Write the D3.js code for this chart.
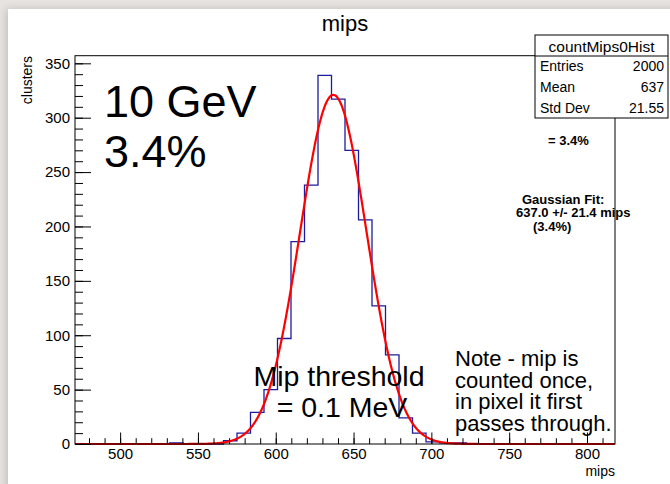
<!DOCTYPE html>
<html>
<head>
<meta charset="utf-8">
<script src="https://cdn.jsdelivr.net/npm/d3@7"></script>
<style>
  html, body { margin: 0; padding: 0; background: #e7e4e1; }
  svg { display: block; font-family: "Liberation Sans", Arial, sans-serif; }
</style>
</head>
<body>
<svg id="chart" width="670" height="484"></svg>
<script>
// Histogram of mip counts per cluster (10 GeV sample)
const xRange = [471, 818];
const nBins = 40;
const binCounts = [
  0, 0, 0, 0, 0, 0, 0, 1, 0, 0,
  0, 3, 10, 29, 50, 97, 186, 238, 339, 317,
  270, 206, 127, 82, 24, 10, 2, 1, 1, 0,
  0, 0, 0, 0, 0, 0, 0, 0, 0, 0
];
const yMax = 357;
const xMajorTicks = [500, 550, 600, 650, 700, 750, 800];
const xMinorTicks = d3.range(480, 811, 10);
const yMajorTicks = [0, 50, 100, 150, 200, 250, 300, 350];
const yMinorTicks = d3.range(0, 351, 10);

// Gaussian fit parameters
const fitAmp = 321;
const fitMean = 637.0;
const fitSigma = 21.4;

// Statistics box
const statsTitle = "countMips0Hist";
const statsRows = [["Entries", "2000"], ["Mean", "637"], ["Std Dev", "21.55"]];

const svg = d3.select("#chart");

// page backdrop with a soft shadow under the white sheet
const defs = svg.append("defs");
const f = defs.append("filter").attr("id", "shadow").attr("x", "-5%").attr("y", "-5%").attr("width", "110%").attr("height", "110%");
f.append("feDropShadow").attr("dx", -2).attr("dy", 0).attr("stdDeviation", 4).attr("flood-color", "#9a9792").attr("flood-opacity", 0.5);
svg.append("rect").attr("x", 0).attr("y", 0).attr("width", 670).attr("height", 484).attr("fill", "#e7e4e1");
svg.append("rect").attr("x", 8).attr("y", 9).attr("width", 680).attr("height", 490)
  .attr("fill", "#ffffff").attr("filter", "url(#shadow)");

const plot = { left: 75, right: 615, top: 55.7, bottom: 444 };
const x = d3.scaleLinear().domain(xRange).range([plot.left, plot.right]);
const y = d3.scaleLinear().domain([0, yMax]).range([plot.bottom, plot.top]);
const binW = (xRange[1] - xRange[0]) / nBins;

// Title
svg.append("text").attr("x", (plot.left + plot.right) / 2).attr("y", 31)
  .attr("text-anchor", "middle").attr("font-size", 22).attr("fill", "#000").text("mips");

// Histogram outline (step line)
const pts = [[x(xRange[0]), y(0)]];
binCounts.forEach((c, i) => {
  const x0 = x(xRange[0] + i * binW), x1 = x(xRange[0] + (i + 1) * binW);
  pts.push([x0, y(c)]);
  pts.push([x1, y(c)]);
});
pts.push([x(xRange[1]), y(0)]);
svg.append("path").attr("d", d3.line()(pts))
  .attr("fill", "none").attr("stroke", "#1c1ca0").attr("stroke-width", 1.3);

// Gaussian fit curve
const fitX = d3.range(xRange[0], xRange[1] + 0.01, 0.5);
const fitLine = d3.line()
  .x(d => x(d))
  .y(d => y(fitAmp * Math.exp(-0.5 * Math.pow((d - fitMean) / fitSigma, 2))))
  .curve(d3.curveLinear);
svg.append("path").attr("d", fitLine(fitX))
  .attr("fill", "none").attr("stroke", "#ff0000").attr("stroke-width", 2.2);

// Frame
svg.append("rect").attr("x", plot.left).attr("y", plot.top)
  .attr("width", plot.right - plot.left).attr("height", plot.bottom - plot.top)
  .attr("fill", "none").attr("stroke", "#000").attr("stroke-width", 1);

// X axis ticks (pointing inward)
const xAxisG = svg.append("g").attr("transform", `translate(0,${plot.bottom})`);
xAxisG.call(d3.axisBottom(x).tickValues(xMinorTicks).tickSize(-5.8).tickFormat(""))
  .call(g => g.select(".domain").remove());
xAxisG.append("g").call(d3.axisBottom(x).tickValues(xMajorTicks).tickSize(-11.5).tickFormat(d3.format("d")))
  .call(g => g.select(".domain").remove())
  .call(g => g.selectAll("text").attr("y", 4).attr("dy", "0.71em").attr("font-size", 15)
    .attr("font-family", "Liberation Sans, Arial, sans-serif").attr("fill", "#000"));
xAxisG.selectAll("line").attr("stroke", "#000");

// Y axis ticks (pointing inward)
const yAxisG = svg.append("g").attr("transform", `translate(${plot.left},0)`);
yAxisG.call(d3.axisLeft(y).tickValues(yMinorTicks).tickSize(-8).tickFormat(""))
  .call(g => g.select(".domain").remove());
yAxisG.append("g").call(d3.axisLeft(y).tickValues(yMajorTicks).tickSize(-16).tickFormat(d3.format("d")))
  .call(g => g.select(".domain").remove())
  .call(g => g.selectAll("text").attr("x", -5).attr("font-size", 15)
    .attr("font-family", "Liberation Sans, Arial, sans-serif").attr("fill", "#000"));
yAxisG.selectAll("line").attr("stroke", "#000");

// Axis titles
svg.append("text").attr("x", plot.right).attr("y", 476).attr("text-anchor", "end")
  .attr("font-size", 14).text("mips");
svg.append("text").attr("transform", `translate(32,56) rotate(-90)`).attr("text-anchor", "end")
  .attr("font-size", 14).text("clusters");

// Annotations
const big = svg.append("g").attr("font-size", 45).attr("fill", "#000");
big.append("text").attr("x", 104).attr("y", 117).text("10 GeV");
big.append("text").attr("x", 104).attr("y", 167).text("3.4%");

const bold = svg.append("g").attr("font-size", 13).attr("font-weight", "bold").attr("fill", "#000");
bold.append("text").attr("x", 548).attr("y", 144.5).text("= 3.4%");
bold.append("text").attr("x", 522).attr("y", 204).text("Gaussian Fit:");
bold.append("text").attr("x", 516).attr("y", 217).text("637.0 +/- 21.4 mips");
bold.append("text").attr("x", 533).attr("y", 231).text("(3.4%)");

const thr = svg.append("g").attr("font-size", 28.5).attr("fill", "#000").attr("text-anchor", "middle");
thr.append("text").attr("x", 339).attr("y", 386).text("Mip threshold");
thr.append("text").attr("x", 342).attr("y", 417).text("= 0.1 MeV");

const note = svg.append("g").attr("font-size", 22).attr("fill", "#000");
["Note - mip is", "counted once,", "in pixel it first", "passes through."].forEach((t, i) => {
  note.append("text").attr("x", 455).attr("y", 366 + i * 21.5).text(t);
});

// Statistics box
const sb = { left: 535, right: 668, top: 35, titleBottom: 56, bottom: 118 };
const sg = svg.append("g");
sg.append("rect").attr("x", sb.left).attr("y", sb.top).attr("width", sb.right - sb.left)
  .attr("height", sb.bottom - sb.top).attr("fill", "#fff").attr("stroke", "#000").attr("stroke-width", 1);
sg.append("line").attr("x1", sb.left).attr("x2", sb.right).attr("y1", sb.titleBottom).attr("y2", sb.titleBottom)
  .attr("stroke", "#000");
sg.append("text").attr("x", (sb.left + sb.right) / 2).attr("y", 51.5).attr("text-anchor", "middle")
  .attr("font-size", 15.5).text(statsTitle);
const rowH = (sb.bottom - sb.titleBottom) / statsRows.length;
statsRows.forEach((r, i) => {
  const cy = sb.titleBottom + rowH * (i + 0.5) + 5;
  sg.append("text").attr("x", sb.left + 5).attr("y", cy).attr("font-size", 14).text(r[0]);
  sg.append("text").attr("x", sb.right - 4).attr("y", cy).attr("text-anchor", "end").attr("font-size", 14).text(r[1]);
});
</script>
</body>
</html>
